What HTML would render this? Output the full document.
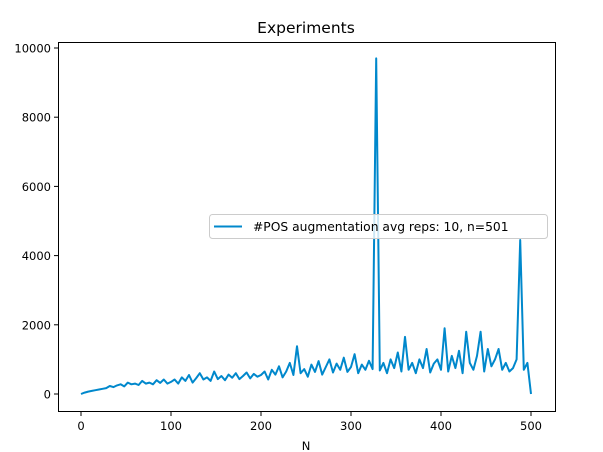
<!DOCTYPE html>
<html><head><meta charset="utf-8"><style>
body{margin:0;background:#fff;}
svg{display:block;font-family:"DejaVu Sans","Liberation Sans",sans-serif;}
</style></head><body>
<svg id="chart" width="603" height="452" xmlns="http://www.w3.org/2000/svg">
<rect x="0" y="0" width="603" height="452" fill="#fff"/>
<text x="306" y="33" font-size="15.5" text-anchor="middle">Experiments</text>
<g id="plot"></g>
<rect x="58.5" y="42.5" width="497" height="369" fill="none" stroke="#000" stroke-width="1"/>
<g id="xt"></g><g id="yt"></g>
<text x="306" y="450" font-size="11.5" text-anchor="middle">N</text>
<g>
<rect x="209.5" y="214.5" width="338" height="24" rx="3" fill="#fff" fill-opacity="0.8" stroke="#ccc"/>
<line x1="214" y1="226.5" x2="242" y2="226.5" stroke="#0088cc" stroke-width="2"/>
<text x="253" y="231" font-size="12.3">#POS augmentation avg reps: 10, n=501</text>
</g>
</svg>
<script>
const xStep = 4;
const yValues = [0,40,70,90,110,130,150,170,230,200,250,280,220,330,280,300,260,380,300,330,280,400,320,420,300,
350,420,300,480,380,550,330,460,600,420,480,380,650,430,520,400,560,470,600,430,520,620,450,580,500,
550,650,420,700,560,800,480,650,900,550,1380,600,720,500,850,640,950,560,780,1000,620,880,700,1050,640,
780,1150,600,850,700,960,720,9700,680,900,600,1000,750,1200,650,1650,700,900,600,1000,750,1300,620,880,1000,
700,1900,650,1100,750,1250,600,1800,900,700,1100,1800,650,1300,800,1000,1300,700,900,650,750,1000,4450,700,900,
0];
const xTicks = [0,100,200,300,400,500];
const yTicks = [0,2000,4000,6000,8000,10000];
const sx = v => 81 + v*0.9;
const sy = v => 394 - v*0.0346;
const NS = "http://www.w3.org/2000/svg";
const plot = document.getElementById('plot');
let d = yValues.map((v,i)=>(i?'L':'M')+sx(i*xStep).toFixed(1)+','+sy(v).toFixed(1)).join(' ');
const p = document.createElementNS(NS,'path');
p.setAttribute('d',d);p.setAttribute('fill','none');p.setAttribute('stroke','#0088cc');p.setAttribute('stroke-width','2');p.setAttribute('stroke-linejoin','round');


plot.appendChild(p);
const xt = document.getElementById('xt');
xTicks.forEach(t=>{
  const x = sx(t);
  const l = document.createElementNS(NS,'line');
  l.setAttribute('x1',x);l.setAttribute('x2',x);l.setAttribute('y1',412);l.setAttribute('y2',416);l.setAttribute('stroke','#000');
  
  
  xt.appendChild(l);
  const tx = document.createElementNS(NS,'text');
  tx.setAttribute('x',x);tx.setAttribute('y',430);tx.setAttribute('font-size','11.5');tx.setAttribute('text-anchor','middle');
  tx.textContent=t;
  
  
  xt.appendChild(tx);
});
const yt = document.getElementById('yt');
yTicks.forEach(t=>{
  const y = sy(t);
  const l = document.createElementNS(NS,'line');
  l.setAttribute('x1',54);l.setAttribute('x2',58);l.setAttribute('y1',y);l.setAttribute('y2',y);l.setAttribute('stroke','#000');
  
  
  yt.appendChild(l);
  const tx = document.createElementNS(NS,'text');
  tx.setAttribute('x',51);tx.setAttribute('y',y+4.5);tx.setAttribute('font-size','11.5');tx.setAttribute('text-anchor','end');
  tx.textContent=t;
  
  
  yt.appendChild(tx);
});
</script>
</body></html>
